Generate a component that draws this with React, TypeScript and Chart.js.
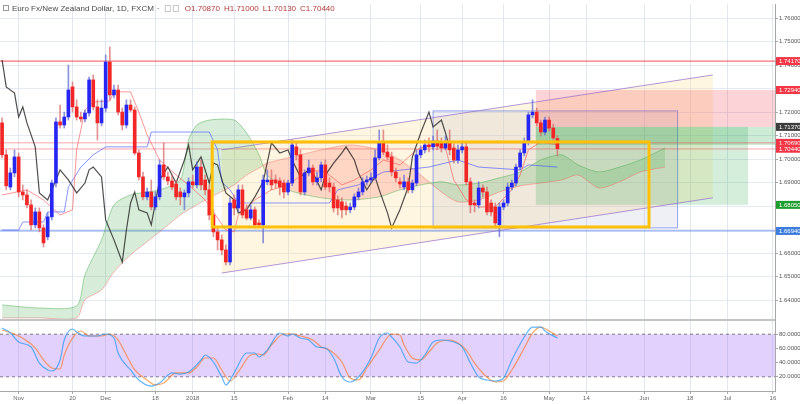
import React, { useEffect, useRef } from "react";
import { Chart, registerables } from "chart.js";

Chart.register(...registerables);

const FONT = '"Liberation Sans", Arial, sans-serif';

const title = "Euro Fx/New Zealand Dollar, 1D, FXCM";

// ---- daily candles (price) ----
const opens = [
  1.7154, 1.7018, 1.6881, 1.6941, 1.7009, 1.6860, 1.6847, 1.6805, 1.6720, 1.6775,
  1.6707, 1.6669, 1.6754, 1.6898, 1.7158, 1.7145, 1.7179, 1.7307, 1.7222, 1.7179,
  1.7171, 1.7196, 1.7337, 1.7222, 1.7154, 1.7217, 1.7413, 1.7273, 1.7294, 1.7200,
  1.7145, 1.7230, 1.7209, 1.7026, 1.6924, 1.6839, 1.6860, 1.6796, 1.6839, 1.6975,
  1.6924, 1.6907, 1.6894, 1.6860, 1.6839, 1.6856, 1.6903, 1.6890, 1.6966, 1.6911,
  1.6869, 1.6762, 1.6690, 1.6656, 1.6613, 1.6562, 1.6826, 1.6792, 1.6869, 1.6784,
  1.6749, 1.6784, 1.6728, 1.6720, 1.6903, 1.6911, 1.6911, 1.6907, 1.6898, 1.6860,
  1.6898, 1.7052, 1.7018, 1.6860, 1.6941, 1.6962, 1.6903, 1.6920, 1.6975, 1.6898,
  1.6881, 1.6826, 1.6818, 1.6800, 1.6784, 1.6796, 1.6839, 1.6860, 1.6903, 1.6911,
  1.6920, 1.7005, 1.7069, 1.7030, 1.7009, 1.6945, 1.6903, 1.6881, 1.6903, 1.6869,
  1.6898, 1.7018, 1.7039, 1.7060, 1.7052, 1.7077, 1.7069, 1.7047, 1.7073, 1.7047,
  1.6996, 1.7039, 1.7052, 1.6903, 1.6813, 1.6805, 1.6877, 1.6860, 1.6813, 1.6796,
  1.6720, 1.6796, 1.6813, 1.6881, 1.6898, 1.6966, 1.7026, 1.7073, 1.7188, 1.7200,
  1.7154, 1.7115, 1.7166, 1.7132, 1.7087,
];
const closes = [
  1.7018, 1.6886, 1.6941, 1.7009, 1.6860, 1.6847, 1.6805, 1.6720, 1.6775, 1.6707,
  1.6643, 1.6754, 1.6898, 1.7158, 1.7145, 1.7179, 1.7294, 1.7222, 1.7179, 1.7171,
  1.7196, 1.7337, 1.7222, 1.7154, 1.7217, 1.7413, 1.7273, 1.7294, 1.7200, 1.7145,
  1.7230, 1.7209, 1.7026, 1.6924, 1.6839, 1.6860, 1.6796, 1.6839, 1.6975, 1.6924,
  1.6907, 1.6881, 1.6839, 1.6839, 1.6856, 1.6903, 1.6890, 1.6966, 1.6890, 1.6869,
  1.6762, 1.6690, 1.6656, 1.6613, 1.6562, 1.6813, 1.6792, 1.6869, 1.6762, 1.6749,
  1.6784, 1.6720, 1.6720, 1.6911, 1.6911, 1.6890, 1.6898, 1.6881, 1.6860, 1.6898,
  1.7060, 1.7018, 1.6860, 1.6941, 1.6962, 1.6903, 1.6920, 1.6975, 1.6881, 1.6881,
  1.6792, 1.6792, 1.6784, 1.6784, 1.6796, 1.6839, 1.6860, 1.6903, 1.6911, 1.6920,
  1.7005, 1.7069, 1.7030, 1.7009, 1.6945, 1.6920, 1.6894, 1.6903, 1.6869, 1.6898,
  1.7018, 1.7039, 1.7060, 1.7052, 1.7077, 1.7056, 1.7047, 1.7073, 1.7039, 1.6996,
  1.7039, 1.7052, 1.6903, 1.6805, 1.6805, 1.6877, 1.6860, 1.6775, 1.6775, 1.6728,
  1.6796, 1.6813, 1.6881, 1.6898, 1.6966, 1.7026, 1.7073, 1.7188, 1.7200, 1.7154,
  1.7115, 1.7166, 1.7132, 1.7090, 1.7044,
];
const highs = [
  1.7175, 1.7039, 1.6962, 1.7039, 1.7026, 1.6890, 1.6869, 1.6826, 1.6792, 1.6792,
  1.6720, 1.6771, 1.6911, 1.7175, 1.7230, 1.7200, 1.7400, 1.7328, 1.7252, 1.7200,
  1.7209, 1.7349, 1.7358, 1.7252, 1.7252, 1.7443, 1.7477, 1.7315, 1.7315, 1.7217,
  1.7252, 1.7252, 1.7222, 1.7039, 1.6945, 1.6877, 1.6911, 1.6860, 1.6996, 1.7069,
  1.6945, 1.6932, 1.6911, 1.6877, 1.6869, 1.6920, 1.6932, 1.6988, 1.6996, 1.6932,
  1.6890, 1.6784, 1.6707, 1.6677, 1.6635, 1.6835, 1.6847, 1.6890, 1.6890, 1.6805,
  1.6805, 1.6796, 1.6741, 1.6932, 1.6954, 1.6954, 1.6932, 1.6920, 1.6911, 1.6911,
  1.7081, 1.7069, 1.7039, 1.6954, 1.6996, 1.6975, 1.6945, 1.6988, 1.6996, 1.6920,
  1.6898, 1.6843, 1.6835, 1.6818, 1.6813, 1.6852, 1.6877, 1.6920, 1.6928, 1.6941,
  1.7039, 1.7124, 1.7124, 1.7060, 1.7030, 1.6962, 1.6920, 1.6932, 1.6920, 1.6911,
  1.7039, 1.7056, 1.7081, 1.7090, 1.7098, 1.7124, 1.7090, 1.7098, 1.7124, 1.7064,
  1.7060, 1.7073, 1.7073, 1.6920, 1.6826, 1.6903, 1.6890, 1.6881, 1.6826, 1.6813,
  1.6813, 1.6826, 1.6898, 1.6911, 1.6979, 1.7039, 1.7090, 1.7200, 1.7252, 1.7217,
  1.7166, 1.7179, 1.7179, 1.7149, 1.7100,
];
const lows = [
  1.7005, 1.6869, 1.6869, 1.6924, 1.6839, 1.6826, 1.6792, 1.6698, 1.6707, 1.6690,
  1.6626, 1.6656, 1.6741, 1.6881, 1.7132, 1.7132, 1.7166, 1.7200, 1.7166, 1.7158,
  1.7158, 1.7183, 1.7209, 1.7081, 1.7141, 1.7200, 1.7252, 1.7260, 1.7188, 1.7124,
  1.7132, 1.7200, 1.7018, 1.6911, 1.6826, 1.6826, 1.6784, 1.6784, 1.6826, 1.6911,
  1.6890, 1.6869, 1.6826, 1.6805, 1.6784, 1.6839, 1.6877, 1.6877, 1.6869, 1.6847,
  1.6741, 1.6669, 1.6613, 1.6592, 1.6549, 1.6549, 1.6762, 1.6775, 1.6749, 1.6741,
  1.6741, 1.6707, 1.6707, 1.6643, 1.6890, 1.6869, 1.6877, 1.6847, 1.6835, 1.6847,
  1.6886, 1.6996, 1.6847, 1.6847, 1.6928, 1.6890, 1.6890, 1.6903, 1.6869, 1.6860,
  1.6775, 1.6762, 1.6749, 1.6762, 1.6771, 1.6784, 1.6826, 1.6847, 1.6890, 1.6898,
  1.6911, 1.6996, 1.7018, 1.6996, 1.6928, 1.6903, 1.6877, 1.6869, 1.6856, 1.6856,
  1.6886, 1.7005, 1.7026, 1.7030, 1.7039, 1.7039, 1.7030, 1.7039, 1.7018, 1.6983,
  1.6983, 1.7026, 1.6890, 1.6771, 1.6775, 1.6792, 1.6839, 1.6762, 1.6758, 1.6715,
  1.6669, 1.6784, 1.6800, 1.6869, 1.6886, 1.6954, 1.7013, 1.7060, 1.7175, 1.7141,
  1.7098, 1.7103, 1.7120, 1.7081, 1.7013,
];

// ---- Ichimoku lines ----
const tenkanIdx = [0, 6, 10, 14, 17, 18, 20, 22, 26, 27, 31, 33, 35, 38, 42, 45, 49, 51, 54, 56, 57, 61, 65, 69, 74, 78, 82, 85, 89, 92, 96, 100, 103, 107, 109, 112, 115, 119, 123, 125, 127, 130, 134];
const tenkanVal = [1.6847, 1.6869, 1.6826, 1.6762, 1.6784, 1.7039, 1.7209, 1.7243, 1.7247, 1.7286, 1.7286, 1.7200, 1.7103, 1.6996, 1.6932, 1.6890, 1.6826, 1.6775, 1.6698, 1.6690, 1.6762, 1.6826, 1.6869, 1.6890, 1.6954, 1.6945, 1.6890, 1.6911, 1.6954, 1.6996, 1.6975, 1.7039, 1.7060, 1.7047, 1.6911, 1.6826, 1.6796, 1.6796, 1.6869, 1.6932, 1.7039, 1.7073, 1.7060];

const kijunIdx = [0, 4, 5, 10, 11, 15, 16, 19, 22, 25, 35, 36, 50, 52, 53, 55, 57, 79, 81, 86, 92, 103, 110, 115, 125, 127, 134];
const kijunVal = [1.6698, 1.6698, 1.6732, 1.6732, 1.6775, 1.6775, 1.6881, 1.6966, 1.7018, 1.7052, 1.7052, 1.7115, 1.7115, 1.7039, 1.6903, 1.6869, 1.6813, 1.6813, 1.6869, 1.6890, 1.6945, 1.6966, 1.6996, 1.6966, 1.6954, 1.6975, 1.6966];

const chikouIdx = [0, 1, 3, 4, 5, 6, 8, 9, 11, 13, 14, 16, 18, 20, 21, 22, 24, 25, 27, 29, 30, 31, 32, 33, 35, 36, 38, 40, 42, 44, 45, 46, 48, 50, 51, 52, 54, 56, 57, 59, 61, 63, 65, 67, 69, 70, 72, 74, 75, 77, 78, 80, 82, 83, 85, 86, 88, 90, 91, 93, 94, 96, 98, 99, 101, 103, 104, 106, 107, 108];
const chikouVal = [1.7422, 1.7307, 1.7281, 1.7179, 1.7222, 1.7154, 1.7052, 1.6856, 1.6826, 1.6911, 1.6954, 1.6911, 1.6856, 1.6898, 1.6954, 1.6966, 1.6924, 1.6741, 1.6656, 1.6562, 1.6698, 1.6813, 1.6860, 1.6784, 1.6771, 1.6720, 1.6911, 1.6966, 1.6898, 1.6996, 1.7060, 1.6954, 1.7009, 1.6898, 1.6983, 1.6975, 1.6856, 1.6826, 1.6771, 1.6784, 1.6839, 1.6903, 1.7069, 1.7026, 1.7039, 1.6996, 1.6924, 1.6954, 1.6941, 1.6869, 1.6932, 1.6983, 1.7026, 1.7052, 1.6996, 1.6941, 1.6869, 1.6924, 1.6869, 1.6771, 1.6707, 1.6784, 1.6881, 1.7009, 1.7111, 1.7200, 1.7137, 1.7166, 1.7111, 1.7047];

const cloudIdx = [0, 9, 18, 20, 24, 27, 31, 38, 43, 45, 47, 50, 56, 59, 62, 64, 69, 77, 84, 91, 96, 101, 106, 110, 115, 120, 125, 130, 135, 139, 144, 149, 154, 160];
const spanA = [1.6379, 1.6366, 1.6375, 1.6507, 1.6656, 1.6805, 1.6847, 1.6869, 1.6911, 1.7081, 1.7145, 1.7166, 1.7166, 1.7111, 1.7018, 1.6932, 1.6869, 1.6835, 1.6826, 1.6839, 1.6869, 1.6890, 1.6903, 1.6890, 1.6898, 1.6920, 1.6945, 1.6996, 1.7018, 1.6975, 1.6945, 1.6966, 1.6996, 1.7047];
const spanB = [1.6324, 1.6324, 1.6324, 1.6401, 1.6443, 1.6520, 1.6592, 1.6690, 1.6762, 1.6784, 1.6805, 1.6835, 1.6890, 1.6932, 1.6962, 1.6983, 1.7005, 1.7039, 1.7060, 1.7039, 1.6996, 1.6932, 1.6860, 1.6818, 1.6826, 1.6860, 1.6886, 1.6898, 1.6911, 1.6932, 1.6877, 1.6903, 1.6945, 1.6966];

// ---- Stochastic RSI ----
const kIdx = [0, 2, 4, 7, 9, 11, 12, 14, 15, 17, 18, 20, 23, 25, 27, 28, 31, 33, 36, 38, 41, 43, 45, 48, 49, 51, 53, 54, 56, 59, 61, 62, 64, 67, 69, 70, 72, 74, 76, 78, 80, 82, 84, 86, 89, 91, 93, 94, 96, 98, 100, 102, 104, 106, 109, 111, 113, 115, 117, 119, 121, 123, 126, 128, 130, 131, 134];
const kVal = [88.7, 81.7, 69.0, 62.0, 39.4, 29.6, 28.2, 43.7, 71.8, 87.3, 83.1, 77.5, 77.5, 80.3, 74.6, 53.5, 29.6, 15.5, 7.0, 11.3, 25.4, 23.9, 26.8, 43.7, 50.7, 40.8, 19.7, 8.5, 25.4, 53.5, 53.5, 47.9, 57.7, 81.7, 77.5, 80.3, 74.6, 71.8, 62.0, 60.6, 46.5, 19.7, 12.7, 19.7, 46.5, 74.6, 81.7, 76.1, 62.0, 40.8, 39.4, 50.7, 69.0, 71.8, 69.0, 62.0, 39.4, 19.7, 15.5, 14.1, 18.3, 43.7, 76.1, 90.1, 90.1, 84.5, 74.6];
const dIdx = [0, 3, 6, 8, 10, 12, 14, 15, 17, 19, 21, 24, 26, 28, 30, 32, 35, 37, 39, 42, 45, 47, 49, 51, 53, 55, 57, 60, 62, 63, 65, 68, 70, 72, 75, 77, 79, 82, 84, 86, 88, 91, 94, 96, 97, 99, 101, 103, 105, 108, 110, 112, 114, 117, 119, 121, 123, 126, 128, 130, 132, 134];
const dVal = [85.9, 80.3, 70.4, 60.6, 43.7, 32.4, 31.0, 50.7, 74.6, 84.5, 77.5, 77.5, 80.3, 71.8, 50.7, 29.6, 15.5, 8.5, 11.3, 25.4, 25.4, 33.8, 46.5, 46.5, 29.6, 14.1, 26.8, 50.7, 52.1, 50.7, 64.8, 80.3, 80.3, 77.5, 71.8, 62.0, 57.7, 40.8, 18.3, 15.5, 32.4, 57.7, 80.3, 78.9, 64.8, 46.5, 43.7, 54.9, 67.6, 71.8, 67.6, 57.7, 39.4, 19.7, 12.7, 14.1, 29.6, 60.6, 81.7, 90.1, 84.5, 77.5];
const bandUpper = 80;
const bandLower = 20;

// ---- axes ----
const xTickIdx = [4, 17, 25, 37, 46, 56, 69, 78, 89, 101, 111, 121, 132, 141, 155, 166, 175, 186];
const xTickLabels = ["Nov", "20", "Dec", "18", "2018", "15", "Feb", "14", "Mar", "15", "Apr", "16", "May", "14", "Jun", "18", "Jul", "16"];
const priceTicks = [1.64, 1.65, 1.66, 1.67, 1.68, 1.69, 1.70, 1.71, 1.72, 1.73, 1.74, 1.75, 1.76];
const oscTicks = [20, 40, 60, 80];
const X_MIN = -0.5;
const X_MAX = 186.5;
const PRICE_MIN = 1.6315;
const PRICE_MAX = 1.766;

// ---- drawing objects (data units) ----
const hLineRed = 1.7417;
const hLinesPink = [1.7069, 1.7043];
const hLineBlue = 1.6694;
const channelX = [53, 171.5];
const channelUpperY = [1.7039, 1.7358];
const channelLowerY = [1.6515, 1.6835];
const blueBoxX = [104, 163];
const blueBoxY = [1.7205, 1.6707];
const goldBoxX = [50.7, 156.1];
const goldBoxY = [1.7073, 1.6711];
const shortX = [128.8, 180];
const shortStop = 1.7294;
const shortEntry = 1.7137;
const shortBand = 1.706;
const shortTarget = 1.6805;

export default function App() {
  const canvasRef = useRef<HTMLCanvasElement | null>(null);

  useEffect(() => {
    const canvas = canvasRef.current;
    if (!canvas) return;
    const last = opens.length - 1;
    const idx = opens.map((_, i) => i);
    const up = idx.map((i) => closes[i] >= opens[i]);
    const pairs = (xs: number[], ys: number[]) => xs.map((x, k) => ({ x, y: ys[k] }));

    const tagValues = [hLineRed, shortStop, shortEntry, hLinesPink[0], closes[last], shortTarget, hLineBlue];
    const tagColors = ["#f23645", "#f23645", "#3c3c3c", "#f23645", "#f23645", "#1e9e2e", "#3d7ddd"];

    const drawings = {
      id: "drawings",
      beforeDatasetsDraw(chart: any) {
        const { ctx } = chart;
        const xs = chart.scales.x;
        const ys = chart.scales.y;
        const X = (v: number) => xs.getPixelForValue(v);
        const Y = (v: number) => ys.getPixelForValue(v);
        ctx.save();
        ctx.beginPath();
        ctx.rect(xs.left, ys.top, xs.right - xs.left, ys.bottom - ys.top);
        ctx.clip();

        // channel fill
        ctx.beginPath();
        ctx.moveTo(X(channelX[0]), Y(channelUpperY[0]));
        ctx.lineTo(X(channelX[1]), Y(channelUpperY[1]));
        ctx.lineTo(X(channelX[1]), Y(channelLowerY[1]));
        ctx.lineTo(X(channelX[0]), Y(channelLowerY[0]));
        ctx.closePath();
        ctx.fillStyle = "rgba(255,222,140,0.26)";
        ctx.fill();

        // blue box
        const bx0 = X(blueBoxX[0]);
        const bx1 = X(blueBoxX[1]);
        const by0 = Y(blueBoxY[0]);
        const by1 = Y(blueBoxY[1]);
        ctx.fillStyle = "rgba(120,135,185,0.12)";
        ctx.fillRect(bx0, by0, bx1 - bx0, by1 - by0);
        ctx.strokeStyle = "rgba(80,110,235,0.6)";
        ctx.lineWidth = 1;
        ctx.strokeRect(bx0, by0, bx1 - bx0, by1 - by0);

        // short position tool
        const sx0 = X(shortX[0]);
        const sx1 = X(shortX[1]);
        ctx.fillStyle = "rgba(242,54,69,0.22)";
        ctx.fillRect(sx0, Y(shortStop), xs.right - sx0, Y(shortEntry) - Y(shortStop));
        ctx.fillStyle = "rgba(8,153,50,0.17)";
        ctx.fillRect(sx0, Y(shortEntry), sx1 - sx0, Y(shortTarget) - Y(shortEntry));
        ctx.fillStyle = "rgba(8,153,50,0.2)";
        ctx.fillRect(sx0, Y(shortEntry), xs.right - sx0, Y(shortBand) - Y(shortEntry));

        // horizontal lines
        const hline = (v: number, color: string, w: number) => {
          ctx.beginPath();
          ctx.strokeStyle = color;
          ctx.lineWidth = w;
          ctx.moveTo(xs.left, Y(v));
          ctx.lineTo(xs.right, Y(v));
          ctx.stroke();
        };
        hline(hLineRed, "rgba(242,54,69,0.7)", 1.4);
        hLinesPink.forEach((v) => hline(v, "rgba(242,54,69,0.45)", 1));
        hline(hLineBlue, "rgba(61,110,230,0.6)", 1.2);

        // channel lines
        ctx.strokeStyle = "rgba(150,105,200,0.7)";
        ctx.lineWidth = 1;
        ctx.beginPath();
        ctx.moveTo(X(channelX[0]), Y(channelUpperY[0]));
        ctx.lineTo(X(channelX[1]), Y(channelUpperY[1]));
        ctx.moveTo(X(channelX[0]), Y(channelLowerY[0]));
        ctx.lineTo(X(channelX[1]), Y(channelLowerY[1]));
        ctx.stroke();
        ctx.restore();
      },
      afterDatasetsDraw(chart: any) {
        const { ctx } = chart;
        const xs = chart.scales.x;
        const ys = chart.scales.y;
        const gx0 = xs.getPixelForValue(goldBoxX[0]);
        const gx1 = xs.getPixelForValue(goldBoxX[1]);
        const gy0 = ys.getPixelForValue(goldBoxY[0]);
        const gy1 = ys.getPixelForValue(goldBoxY[1]);
        ctx.save();
        ctx.strokeStyle = "#ffc107";
        ctx.lineWidth = 3;
        ctx.strokeRect(gx0, gy0, gx1 - gx0, gy1 - gy0);
        ctx.restore();
      },
      afterDraw(chart: any) {
        const { ctx, chartArea } = chart;
        const ys = chart.scales.y;
        ctx.save();
        // pane separator
        ctx.strokeStyle = "#c4c4c4";
        ctx.lineWidth = 2;
        ctx.beginPath();
        ctx.moveTo(chartArea.left, ys.bottom);
        ctx.lineTo(chartArea.right, ys.bottom);
        ctx.stroke();

        // header
        ctx.textBaseline = "middle";
        ctx.textAlign = "left";
        ctx.font = `8px ${FONT}`;
        ctx.strokeStyle = "#9a9a9a";
        ctx.lineWidth = 1;
        ctx.strokeRect(3.5, 5.5, 5, 5);
        ctx.fillStyle = "#4a4a4a";
        ctx.fillText(title, 12, 9);
        let hx = 12 + ctx.measureText(title).width + 3;
        ctx.fillText("·", hx, 9);
        hx += 8;
        ctx.strokeStyle = "#c8c8c8";
        ctx.strokeRect(hx + 0.5, 5.5, 5, 6);
        ctx.strokeRect(hx + 8.5, 5.5, 5, 6);
        hx += 20;
        const ohlc: [string, number][] = [
          ["O", opens[last]],
          ["H", highs[last]],
          ["L", lows[last]],
          ["C", closes[last]],
        ];
        ctx.fillStyle = "#b33a3a";
        ohlc.forEach(([k, v]) => {
          const s = k + v.toFixed(5);
          ctx.fillText(s, hx, 9);
          hx += ctx.measureText(s).width + 4;
        });

        // price tags on the axis
        ctx.font = `6px ${FONT}`;
        tagValues.forEach((v, k) => {
          const py = ys.getPixelForValue(v);
          ctx.fillStyle = tagColors[k];
          ctx.fillRect(chartArea.right + 1, py - 4, chart.width - chartArea.right - 1, 8);
          ctx.fillStyle = "#ffffff";
          ctx.fillText(v.toFixed(5), chartArea.right + 4, py + 0.5);
        });
        ctx.restore();
      },
    };

    const chart = new Chart(canvas, {
      type: "bar",
      data: {
        datasets: [
          {
            type: "bar",
            label: "body",
            data: idx.map((i) => ({ x: i, y: [opens[i], closes[i]] })),
            backgroundColor: idx.map((i) => (up[i] ? "#2626f2" : "#f22626")),
            barThickness: 3,
            minBarLength: 1,
            grouped: false,
            borderWidth: 0,
            yAxisID: "y",
            order: 0,
          },
          {
            type: "bar",
            label: "wick",
            data: idx.map((i) => ({ x: i, y: [lows[i], highs[i]] })),
            backgroundColor: idx.map((i) => (up[i] ? "rgba(90,100,210,0.7)" : "rgba(215,100,100,0.7)")),
            barThickness: 1,
            grouped: false,
            borderWidth: 0,
            yAxisID: "y",
            order: 1,
          },
          {
            type: "line",
            label: "chikou",
            data: pairs(chikouIdx, chikouVal),
            borderColor: "rgba(35,35,35,0.8)",
            borderWidth: 1.2,
            pointRadius: 0,
            yAxisID: "y",
            order: 2,
          },
          {
            type: "line",
            label: "tenkan",
            data: pairs(tenkanIdx, tenkanVal),
            borderColor: "rgba(255,80,80,0.6)",
            borderWidth: 1,
            pointRadius: 0,
            yAxisID: "y",
            order: 3,
          },
          {
            type: "line",
            label: "kijun",
            data: pairs(kijunIdx, kijunVal),
            borderColor: "rgba(60,80,255,0.6)",
            borderWidth: 1,
            pointRadius: 0,
            yAxisID: "y",
            order: 4,
          },
          {
            type: "line",
            label: "spanA",
            data: pairs(cloudIdx, spanA),
            borderColor: "rgba(76,175,80,0.5)",
            borderWidth: 1,
            pointRadius: 0,
            tension: 0.25,
            fill: { target: "+1", above: "rgba(76,175,80,0.22)", below: "rgba(255,82,82,0.2)" },
            yAxisID: "y",
            order: 6,
          },
          {
            type: "line",
            label: "spanB",
            data: pairs(cloudIdx, spanB),
            borderColor: "rgba(255,82,82,0.4)",
            borderWidth: 1,
            pointRadius: 0,
            tension: 0.25,
            yAxisID: "y",
            order: 7,
          },
          {
            type: "line",
            label: "stochK",
            data: pairs(kIdx, kVal),
            borderColor: "rgba(33,150,243,0.7)",
            borderWidth: 1.2,
            pointRadius: 0,
            cubicInterpolationMode: "monotone",
            yAxisID: "y2",
            order: 2,
          },
          {
            type: "line",
            label: "stochD",
            data: pairs(dIdx, dVal),
            borderColor: "rgba(255,109,0,0.6)",
            borderWidth: 1.2,
            pointRadius: 0,
            cubicInterpolationMode: "monotone",
            yAxisID: "y2",
            order: 3,
          },
          {
            type: "line",
            label: "band80",
            data: [
              { x: X_MIN, y: bandUpper },
              { x: X_MAX, y: bandUpper },
            ],
            borderColor: "rgba(110,110,110,0.9)",
            borderWidth: 1,
            borderDash: [3, 3],
            pointRadius: 0,
            fill: "+1",
            backgroundColor: "rgba(160,100,250,0.3)",
            yAxisID: "y2",
            order: 8,
          },
          {
            type: "line",
            label: "band20",
            data: [
              { x: X_MIN, y: bandLower },
              { x: X_MAX, y: bandLower },
            ],
            borderColor: "rgba(110,110,110,0.9)",
            borderWidth: 1,
            borderDash: [3, 3],
            pointRadius: 0,
            yAxisID: "y2",
            order: 9,
          },
        ],
      },
      options: {
        animation: false,
        responsive: false,
        maintainAspectRatio: false,
        layout: { padding: 0 },
        plugins: {
          legend: { display: false },
          tooltip: { enabled: false },
        },
        scales: {
          x: {
            type: "linear",
            min: X_MIN,
            max: X_MAX,
            offset: false,
            afterBuildTicks: (s: any) => {
              s.ticks = xTickIdx.map((v) => ({ value: v }));
            },
            afterFit: (s: any) => {
              s.height = 13;
            },
            ticks: {
              autoSkip: false,
              maxRotation: 0,
              padding: 1,
              color: "#666",
              font: { size: 6, family: FONT },
              callback: (v: any) => {
                const k = xTickIdx.indexOf(Number(v));
                return k >= 0 ? xTickLabels[k] : "";
              },
            },
            grid: { color: "rgba(222,228,238,0.9)", offset: false, tickLength: 3, tickColor: "#aaa" },
            border: { color: "#a8a8a8" },
          },
          y: {
            type: "linear",
            position: "right",
            stack: "panes",
            stackWeight: 316,
            min: PRICE_MIN,
            max: PRICE_MAX,
            afterBuildTicks: (s: any) => {
              s.ticks = priceTicks.map((v) => ({ value: v }));
            },
            afterFit: (s: any) => {
              s.width = 25;
            },
            ticks: {
              padding: 1,
              color: "#555",
              font: { size: 6, family: FONT, lineHeight: 1 },
              callback: (v: any) => Number(v).toFixed(5),
            },
            grid: { color: "rgba(222,228,238,0.8)", tickLength: 3, tickColor: "#aaa" },
            border: { color: "#a8a8a8" },
          },
          y2: {
            type: "linear",
            position: "right",
            stack: "panes",
            stackWeight: 71,
            min: 0,
            max: 100,
            afterBuildTicks: (s: any) => {
              s.ticks = oscTicks.map((v) => ({ value: v }));
            },
            afterFit: (s: any) => {
              s.width = 25;
            },
            ticks: {
              padding: 1,
              color: "#555",
              font: { size: 6, family: FONT, lineHeight: 1 },
              callback: (v: any) => Number(v).toFixed(4),
            },
            grid: { drawOnChartArea: false, tickLength: 3, tickColor: "#aaa" },
            border: { color: "#a8a8a8" },
          },
        },
      },
      plugins: [drawings],
    } as any);

    return () => chart.destroy();
  }, []);

  return (
    <div style={{ position: "fixed", left: 0, top: 0, width: 800, height: 404, background: "#ffffff" }}>
      <canvas ref={canvasRef} width={800} height={404} style={{ display: "block", width: 800, height: 404 }} />
    </div>
  );
}
